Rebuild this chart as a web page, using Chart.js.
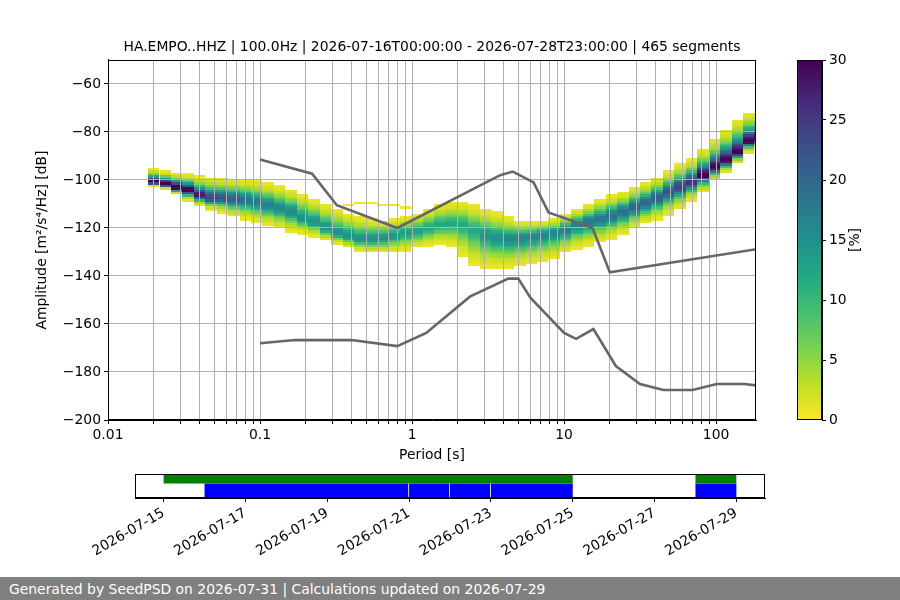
<!DOCTYPE html>
<html>
<head>
<meta charset="utf-8">
<title>PPSD HA.EMPO..HHZ</title>
<script src="https://cdn.jsdelivr.net/npm/chart.js@4.4.1/dist/chart.umd.min.js"></script>
<style>
  html, body { margin: 0; padding: 0; background: #ffffff; }
  #page { position: relative; width: 900px; height: 600px; overflow: hidden; }
  canvas { position: absolute; }
  #main { left: 0; top: 0; }
  #cbar { left: 760px; top: 0; }
  #cover { left: 0; top: 465px; }
  #footer { position: absolute; left: 0; top: 577px; width: 900px; height: 23px; box-sizing: border-box;
            padding-left: 9px; background: #808080; color: #ffffff; white-space: nowrap;
            font: 13.9px 'DejaVu Sans', sans-serif; line-height: 24px; }
</style>
</head>
<body>
<div id="page">
  <canvas id="main" width="790" height="470"></canvas>
  <canvas id="cbar" width="140" height="470"></canvas>
  <canvas id="cover" width="900" height="112"></canvas>
  <div id="footer">Generated by SeedPSD on 2026-07-31 | Calculations updated on 2026-07-29</div>
</div>
<script>
Chart.defaults.font.family = "'DejaVu Sans', sans-serif";
Chart.defaults.font.size = 13.9;
Chart.defaults.color = '#000000';
Chart.defaults.animation = false;

const TITLE = 'HA.EMPO..HHZ | 100.0Hz | 2026-07-16T00:00:00 - 2026-07-28T23:00:00 | 465 segments';

// histogram columns, period centre in s (1/4 octave apart)
const periods = [0.020, 0.0238, 0.0283, 0.0336, 0.040, 0.0476, 0.0566, 0.0673, 0.080, 0.0951,
                 0.113, 0.1345, 0.160, 0.190, 0.226, 0.269, 0.320, 0.381, 0.453, 0.538,
                 0.640, 0.761, 0.905, 1.076, 1.28, 1.522, 1.81, 2.153, 2.56, 3.044,
                 3.62, 4.305, 5.12, 6.089, 7.241, 8.611, 10.24, 12.18, 14.48, 17.22,
                 20.48, 24.36, 28.96, 34.44, 40.96, 48.71, 57.93, 68.89, 81.92, 97.42,
                 115.9, 137.8, 163.8, 194.8];
// upper edge of the occupied bins, dB
const dbHigh = [-95.8, -96.7, -97.5, -97.9, -98.8, -99.2, -99.6, -100.0, -100.4, -100.8,
                -101.7, -102.9, -104.2, -106.3, -108.3, -110.4, -112.5, -114.6, -115.8, -116.7,
                -117.5, -116.7, -115.8, -114.6, -112.5, -110.4, -109.6, -109.6, -110.8, -112.5,
                -113.8, -115.8, -117.5, -117.5, -117.5, -116.7, -114.6, -112.5, -110.4, -108.3,
                -106.7, -105.4, -103.3, -101.3, -99.2, -96.7, -93.8, -91.7, -87.5, -83.3,
                -79.2, -75.0, -72.1, -72.1];
// most populated bin, dB
const dbMode = [-100.8, -101.7, -102.9, -104.2, -106.3, -107.5, -107.5, -107.9, -108.3, -109.2,
                -110.4, -111.7, -113.3, -115.8, -117.5, -120.0, -122.1, -123.3, -124.6, -124.6,
                -124.2, -123.3, -122.1, -121.3, -120.0, -118.8, -118.3, -118.8, -120.8, -122.9,
                -124.2, -124.6, -124.2, -123.8, -122.9, -122.1, -120.8, -118.8, -117.5, -116.3,
                -115.0, -113.3, -111.3, -109.6, -107.5, -105.0, -102.9, -100.8, -97.9, -94.6,
                -91.7, -88.3, -83.8, -82.5];
// lower edge of the occupied bins, dB
const dbLow = [-102.1, -103.3, -105.8, -108.3, -110.4, -112.1, -113.3, -115.0, -116.3, -117.5,
               -118.8, -120.0, -121.3, -122.1, -123.3, -125.0, -126.3, -127.9, -129.2, -130.0,
               -130.0, -129.6, -129.2, -127.9, -127.1, -126.3, -127.1, -131.3, -135.4, -136.7,
               -136.7, -136.7, -135.8, -134.6, -133.8, -132.5, -130.0, -128.3, -127.1, -125.8,
               -124.2, -122.5, -120.0, -117.9, -116.3, -114.2, -111.7, -108.3, -105.0, -100.0,
               -96.7, -92.9, -88.3, -86.7];
// percentage in the most populated bin
const peakPct = [30, 30, 30, 30, 28, 24, 22, 21, 19, 18,
                 17, 16, 16, 15, 15, 15, 15, 15, 15, 15,
                 15, 14, 13, 13, 12, 12, 12, 12, 12, 14,
                 15, 16, 16, 16, 16, 16, 17, 17, 18, 18,
                 19, 19, 20, 20, 21, 22, 24, 26, 30, 30,
                 30, 30, 30, 30];

// isolated low-count bins above the band
const strayPeriods = [0.381, 0.453, 0.538, 0.640, 0.761, 0.905];
const strayDb = [-111, -110, -110, -111, -111, -112];

// Peterson high / low noise models
const nhnmPeriods = [0.1, 0.22, 0.32, 0.8, 3.8, 4.6, 6.3, 7.9, 15.4, 20, 354.8];
const nhnmDb = [-91.5, -97.4, -110.5, -120.0, -98.0, -96.5, -101.0, -113.5, -120.0, -138.5, -126.0];
const nlnmPeriods = [0.1, 0.17, 0.4, 0.8, 1.24, 2.4, 4.3, 5.0, 6.0, 10, 12, 15.6, 21.9, 31.6, 45, 70, 101, 154, 328];
const nlnmDb = [-168.0, -166.7, -166.7, -169.2, -163.7, -148.6, -141.1, -141.1, -149.0, -163.7,
                -166.2, -162.1, -177.5, -185.0, -187.5, -187.5, -185.0, -185.0, -187.5];

const xDecades = ['0.01', '0.1', '1', '10', '100'];
const yTicks = [-200, -180, -160, -140, -120, -100, -80, -60];
const cbarTicks = [0, 5, 10, 15, 20, 25, 30];

// coverage panel
const covTickLabels = ['2026-07-15', '2026-07-17', '2026-07-19', '2026-07-21',
                       '2026-07-23', '2026-07-25', '2026-07-27', '2026-07-29'];
const dataSpans = [['2026-07-15T00:00', '2026-07-25T00:00'], ['2026-07-28T00:00', '2026-07-29T00:00']];
const psdSpans = [['2026-07-16T00:00', '2026-07-20T23:30'], ['2026-07-21T00:00', '2026-07-21T23:30'],
                  ['2026-07-22T00:00', '2026-07-22T23:30'], ['2026-07-23T00:00', '2026-07-25T00:00'],
                  ['2026-07-28T00:00', '2026-07-29T00:00']];

const X_MIN = 0.01;
const X_MAX = 183;
const PCT_MAX = 30;
const VIRIDIS = ['#440154', '#482475', '#414487', '#355f8d', '#2a788e', '#21918c',
                 '#22a884', '#44bf70', '#7ad151', '#bddf26', '#fde725'];
const GRID = '#b0b0b0';
const MODEL = '#666666';

function hexToRgb(h) {
    return [1, 3, 5].map(i => parseInt(h.slice(i, i + 2), 16));
}
const viridisRgb = VIRIDIS.map(hexToRgb);

// viridis reversed: 0 % yellow, 30 % purple
function pctColor(v) {
    const t = (1 - Math.min(Math.max(v / PCT_MAX, 0), 1)) * 10;
    const i = Math.min(Math.floor(t), 9);
    const u = t - i;
    const a = viridisRgb[i], b = viridisRgb[i + 1];
    return 'rgb(' + a.map((c, j) => Math.round(c + (b[j] - c) * u)).join(',') + ')';
}

function minusSign(v) {
    return String(v).replace('-', '\u2212');
}

function toMs(s) {
    return Date.parse(s + ':00Z');
}

// bins of one column, falling off from the mode towards both edges
function columnCells(k) {
    const m = dbMode[k], hi = dbHigh[k], lo = dbLow[k], pk = peakPct[k];
    const w = Math.pow(Math.log(pk / 0.7), 1 / 1.5);
    const sUp = Math.max((hi - m) / w, 0.3);
    const sDn = Math.max((m - lo) / w, 0.3);
    const cells = [];
    for (let d = Math.floor(lo); d < Math.ceil(hi); d++) {
        let dist = 0, s = sUp;
        if (m < d) { dist = d - m; s = sUp; }
        else if (m > d + 1) { dist = m - d - 1; s = sDn; }
        cells.push({ d: d, v: Math.max(pk * Math.exp(-Math.pow(dist / s, 1.5)), 0.5) });
    }
    return cells;
}

const frame = {
    id: 'frame',
    afterDraw(chart) {
        const { ctx, chartArea: a } = chart;
        ctx.save();
        ctx.strokeStyle = '#000000';
        ctx.lineWidth = 1;
        ctx.strokeRect(Math.round(a.left) + 0.5, Math.round(a.top) + 0.5,
                       Math.round(a.right - a.left) - 1, Math.round(a.bottom - a.top) - 1);
        ctx.restore();
    }
};

const psdCells = {
    id: 'psdCells',
    beforeDraw(chart) {
        const { ctx, chartArea: a, scales: { x, y } } = chart;
        const half = Math.pow(2, 1 / 8);
        ctx.save();
        ctx.beginPath();
        ctx.rect(a.left, a.top, a.right - a.left, a.bottom - a.top);
        ctx.clip();
        const cell = (p, d, v) => {
            const x0 = Math.round(x.getPixelForValue(p / half));
            const x1 = Math.round(x.getPixelForValue(p * half));
            const y0 = Math.round(y.getPixelForValue(d));
            const y1 = Math.round(y.getPixelForValue(d + 1));
            ctx.fillStyle = pctColor(v);
            ctx.fillRect(x0, y1, x1 - x0, y0 - y1);
        };
        periods.forEach((p, k) => {
            columnCells(k).forEach(c => cell(p, c.d, c.v));
        });
        strayPeriods.forEach((p, i) => cell(p, strayDb[i], 0.5));
        ctx.restore();
    }
};

// ---------- main PPSD panel ----------
const xGrid = [];
xDecades.forEach(d => {
    for (let m = 1; m <= 9; m++) {
        const v = +(m * Number(d)).toPrecision(3);
        if (v <= X_MAX) xGrid.push(v);
    }
});
const xMajor = xDecades.map(Number);

new Chart(document.getElementById('main'), {
    type: 'scatter',
    data: {
        datasets: [{
            data: nhnmPeriods.map((p, i) => ({ x: p, y: nhnmDb[i] })),
            showLine: true,
            borderColor: MODEL,
            borderWidth: 2.6,
            pointRadius: 0
        }, {
            data: nlnmPeriods.map((p, i) => ({ x: p, y: nlnmDb[i] })),
            showLine: true,
            borderColor: MODEL,
            borderWidth: 2.6,
            pointRadius: 0
        }]
    },
    options: {
        responsive: false,
        layout: { padding: { left: 0, right: 34, top: 0, bottom: 0 } },
        plugins: {
            legend: { display: false },
            tooltip: { enabled: false },
            title: {
                display: true,
                text: TITLE,
                fullSize: false,
                padding: { top: 39, bottom: 4.3 },
                font: { size: 13.9, weight: 'normal' },
                color: '#000000'
            }
        },
        scales: {
            x: {
                type: 'logarithmic',
                min: X_MIN,
                max: X_MAX,
                afterBuildTicks: s => { s.ticks = xGrid.map(v => ({ value: v })); },
                afterFit: s => { s.height = 50; },
                ticks: {
                    autoSkip: false,
                    maxRotation: 0,
                    padding: 3,
                    callback: v => xMajor.includes(v) ? String(v) : ''
                },
                grid: { color: GRID, lineWidth: 1, tickColor: '#000000', tickLength: 4 },
                border: { color: '#000000' },
                title: { display: true, text: 'Period [s]', padding: { top: 0, bottom: 6.7 } }
            },
            y: {
                type: 'linear',
                min: -200,
                max: -50,
                afterBuildTicks: s => { s.ticks = yTicks.map(v => ({ value: v })); },
                afterFit: s => { s.width = 108; },
                ticks: { padding: 3, callback: v => minusSign(v) },
                grid: { color: GRID, lineWidth: 1, tickColor: '#000000', tickLength: 4 },
                border: { color: '#000000' },
                title: { display: true, text: 'Amplitude [m\u00b2/s\u2074/Hz] [dB]', padding: { top: 34, bottom: 0 } }
            }
        }
    },
    plugins: [psdCells, frame]
});

// ---------- colour bar ----------
const cbarFill = {
    id: 'cbarFill',
    beforeDraw(chart) {
        const { ctx, chartArea: a, scales: { y } } = chart;
        const g = ctx.createLinearGradient(0, y.getPixelForValue(0), 0, y.getPixelForValue(PCT_MAX));
        VIRIDIS.forEach((c, i) => g.addColorStop(1 - i / 10, c));
        ctx.save();
        ctx.fillStyle = g;
        ctx.fillRect(a.left, a.top, a.right - a.left, a.bottom - a.top);
        ctx.restore();
    },
    afterDraw(chart) {
        const { ctx, chartArea: a } = chart;
        ctx.save();
        ctx.translate(95, (a.top + a.bottom) / 2);
        ctx.rotate(-Math.PI / 2);
        ctx.font = "13.9px 'DejaVu Sans', sans-serif";
        ctx.fillStyle = '#000000';
        ctx.textAlign = 'center';
        ctx.textBaseline = 'middle';
        ctx.fillText('[%]', 0, 0);
        ctx.restore();
    }
};

new Chart(document.getElementById('cbar'), {
    type: 'scatter',
    data: { datasets: [] },
    options: {
        responsive: false,
        layout: { padding: { left: 37, right: 0, top: 60, bottom: 50 } },
        plugins: { legend: { display: false }, tooltip: { enabled: false } },
        scales: {
            x: { display: false, min: 0, max: 1 },
            y: {
                position: 'right',
                min: 0,
                max: PCT_MAX,
                afterBuildTicks: s => { s.ticks = cbarTicks.map(v => ({ value: v })); },
                afterFit: s => { s.width = 78; },
                ticks: { padding: 3 },
                grid: { drawOnChartArea: false, tickColor: '#000000', tickLength: 4 },
                border: { color: '#000000' }
            }
        }
    },
    plugins: [cbarFill, frame]
});

// ---------- data coverage ----------
const allMs = dataSpans.flat().map(toMs);
const covLo = Math.min(...allMs), covHi = Math.max(...allMs);
const covPad = (covHi - covLo) * 0.05;

new Chart(document.getElementById('cover'), {
    type: 'bar',
    data: {
        datasets: [{
            data: dataSpans.map(s => ({ x: [toMs(s[0]), toMs(s[1])], y: 0.8 })),
            backgroundColor: '#008000',
            barThickness: 9.6,
            stack: 'cov',
            inflateAmount: 0,
            borderWidth: 0
        }, {
            data: psdSpans.map(s => ({ x: [toMs(s[0]), toMs(s[1])], y: 0.3 })),
            backgroundColor: '#0000ff',
            barThickness: 14.4,
            stack: 'cov',
            inflateAmount: 0,
            borderWidth: 0
        }]
    },
    options: {
        indexAxis: 'y',
        responsive: false,
        layout: { padding: { left: 135, right: 135, top: 9, bottom: 0 } },
        plugins: { legend: { display: false }, tooltip: { enabled: false } },
        scales: {
            x: {
                type: 'linear',
                stacked: false,
                offset: false,
                min: covLo - covPad,
                max: covHi + covPad,
                afterBuildTicks: s => { s.ticks = covTickLabels.map(d => ({ value: toMs(d + 'T00:00') })); },
                afterFit: s => { s.height = 79; },
                ticks: {
                    autoSkip: false,
                    minRotation: 30,
                    maxRotation: 30,
                    padding: 3,
                    callback: v => new Date(v).toISOString().slice(0, 10)
                },
                grid: { drawOnChartArea: false, tickColor: '#000000', tickLength: 4 },
                border: { color: '#000000' }
            },
            y: { type: 'linear', offset: false, min: 0, max: 1, display: false }
        }
    },
    plugins: [frame]
});
</script>
</body>
</html>
